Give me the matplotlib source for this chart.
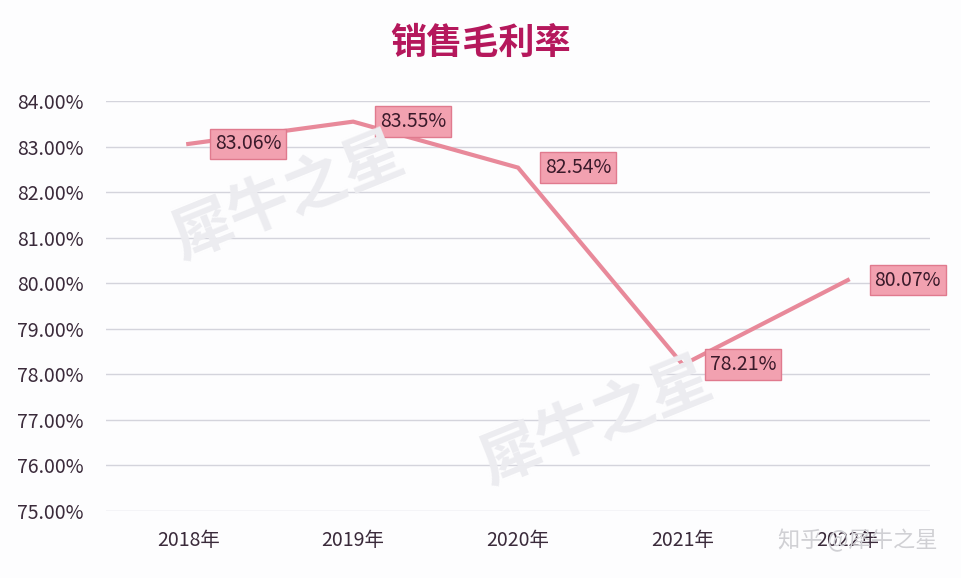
import matplotlib
matplotlib.use('Agg')
from matplotlib import pyplot as plt

plt.rcParams['font.family'] = ['Noto Sans CJK SC', 'DejaVu Sans']

titulo = '销售毛利率'
years = ['2018年', '2019年', '2020年', '2021年', '2022年']
rate = [83.06, 83.55, 82.54, 78.21, 80.07]
yticks = [75, 76, 77, 78, 79, 80, 81, 82, 83, 84]

fig = plt.figure(figsize=(9.62, 5.78), dpi=100)
fig.patch.set_facecolor('#fdfdfe')
ax = fig.add_axes([0.110, 0.116, 0.857, 0.709])
ax.set_facecolor('#fdfdfe')

x = list(range(len(years)))
ax.plot(x, rate, '-', color='#e8899a', linewidth=3, solid_joinstyle='miter', zorder=3)

for i, v in zip(x, rate):
    ax.annotate('{:.2f}%'.format(v), (i, v), xytext=(60, 0), textcoords='offset pixels',
                ha='center', va='center', fontsize=14, color='#3a1a2a', zorder=4,
                bbox=dict(boxstyle='square,pad=0.25', facecolor='#f2a1b0', edgecolor='#e07a8e', linewidth=1))

ax.set_xlim(-0.5, 4.5)
ax.set_ylim(75, 84)
ax.set_yticks(yticks)
ax.set_yticklabels(['{:.2f}%'.format(t) for t in yticks])
ax.set_xticks(x)
ax.set_xticklabels(years)
ax.tick_params(length=0, labelsize=14, colors='#3a2a3a')
ax.tick_params(axis='y', pad=16)
ax.tick_params(axis='x', pad=14)
ax.grid(axis='y', color='#d4d4dc', linewidth=1)
ax.set_axisbelow(True)
for s in ax.spines.values():
    s.set_visible(False)

fig.text(0.5, 0.925, titulo, ha='center', va='center', fontsize=26, fontweight='bold', color='#b5185c')

# marcas de agua
fig.text(0.30, 0.66, '犀牛之星', fontsize=44, fontweight='bold', color='#ececf0', rotation=22,
         ha='center', va='center', zorder=0)
fig.text(0.62, 0.27, '犀牛之星', fontsize=44, fontweight='bold', color='#ececf0', rotation=22,
         ha='center', va='center', zorder=0)
fig.text(0.975, 0.065, '知乎 @犀牛之星', fontsize=16, color='#d0d0d4', ha='right', va='center')

plt.savefig('out.png')
